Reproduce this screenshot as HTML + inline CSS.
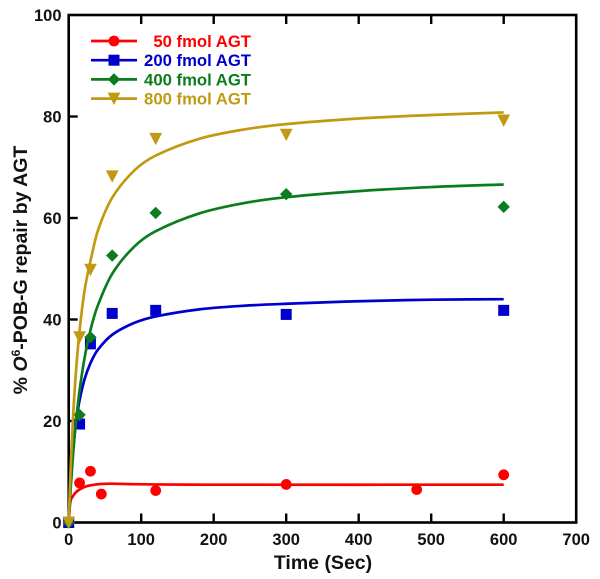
<!DOCTYPE html>
<html lang="en">
<head>
<meta charset="utf-8">
<title>O6-POB-G repair by AGT</title>
<style>
html,body{margin:0;padding:0;background:#fff;width:600px;height:579px;overflow:hidden}
svg{display:block;font-family:"Liberation Sans",Arial,sans-serif;font-weight:bold;filter:blur(0.35px)}
</style>
</head>
<body>
<svg id="chart" xmlns="http://www.w3.org/2000/svg" width="600" height="579" viewBox="0 0 600 579">
  <rect width="600" height="579" fill="#fff"/>
  <g id="axes"></g>
  <g id="curves"></g>
  <g id="legend"></g>
  <text x="323" y="569" font-size="19.5" text-anchor="middle" fill="#111">Time (Sec)</text>
  <text transform="translate(27 270) rotate(-90)" font-size="19.5" text-anchor="middle" fill="#111">% <tspan font-style="italic">O</tspan><tspan font-size="12" dy="-7">6</tspan><tspan dy="7">-POB-G repair by AGT</tspan></text>
</svg>
<script>
// Axis tick labels
const xTicks = [0, 100, 200, 300, 400, 500, 600, 700];
const yTicks = [0, 20, 40, 60, 80, 100];

// Series names and colours
const seriesNames = ['50 fmol AGT', '200 fmol AGT', '400 fmol AGT', '800 fmol AGT'];
const seriesColors = ['#ff0000', '#0000cd', '#0b7d1e', '#c19a13'];
const seriesShapes = ['circle', 'square', 'diamond', 'triangle'];

// Measured points (time, % repair)
const times50 = [0, 15, 30, 45, 120, 300, 480, 600];
const values50 = [0, 7.8, 10.1, 5.6, 6.3, 7.5, 6.5, 9.4];
const times200 = [0, 15, 30, 60, 120, 300, 600];
const values200 = [0, 19.4, 35.2, 41.2, 41.8, 41, 41.8];
const times400 = [0, 15, 30, 60, 120, 300, 600];
const values400 = [0, 21.2, 36.5, 52.6, 61, 64.7, 62.2];
const times800 = [0, 15, 30, 60, 120, 300, 600];
const values800 = [0, 36.5, 49.8, 68.2, 75.6, 76.4, 79.2];

// Fitted curves
const fitTimes50 = [0, 2, 5, 11, 20, 29, 45, 60, 90, 120, 200, 600];
const fitValues50 = [0, 3.8, 5, 6.1, 6.9, 7.3, 7.6, 7.65, 7.55, 7.5, 7.45, 7.45];
const fitTimes = [0, 3, 6, 10, 15, 22, 30, 40, 60, 90, 120, 180, 240, 300, 400, 500, 600];
const fitValues200 = [0, 8.4, 14.2, 19.6, 24.1, 28.3, 31.4, 34, 37, 39.3, 40.6, 42, 42.7, 43.1, 43.6, 43.9, 44];
const fitValues400 = [0, 7.4, 13.4, 19.8, 26, 32.5, 37.9, 42.7, 49, 54.3, 57.4, 60.9, 62.9, 64.1, 65.3, 66.1, 66.6];
const fitValues800 = [0, 11.9, 20.8, 29.7, 37.8, 45.8, 51.5, 57.4, 64, 69.3, 72.3, 75.6, 77.4, 78.5, 79.6, 80.3, 80.8];

const NS = 'http://www.w3.org/2000/svg';
const plotLeft = 68.7, plotRight = 576.2, plotTop = 15, plotBottom = 522.5;
const xMax = 700, yMax = 100;
function xScale(v) { return plotLeft + (v / xMax) * (plotRight - plotLeft); }
function yScale(v) { return plotBottom - (v / yMax) * (plotBottom - plotTop); }
function make(tag, attrs) {
  const el = document.createElementNS(NS, tag);
  for (const k in attrs) el.setAttribute(k, attrs[k]);
  return el;
}
function smoothPath(xs, ys) {
  const p = xs.map((t, i) => [xScale(t), yScale(ys[i])]);
  const n = p.length;
  const slope = p.map((q, i) => {
    const a = p[Math.max(i - 1, 0)], b = p[Math.min(i + 1, n - 1)];
    return (b[1] - a[1]) / (b[0] - a[0]);
  });
  let d = 'M' + p[0][0].toFixed(2) + ' ' + p[0][1].toFixed(2);
  for (let i = 0; i < n - 1; i++) {
    const dx = (p[i + 1][0] - p[i][0]) / 3;
    d += 'C' + (p[i][0] + dx).toFixed(2) + ' ' + (p[i][1] + slope[i] * dx).toFixed(2) + ' ' +
      (p[i + 1][0] - dx).toFixed(2) + ' ' + (p[i + 1][1] - slope[i + 1] * dx).toFixed(2) + ' ' +
      p[i + 1][0].toFixed(2) + ' ' + p[i + 1][1].toFixed(2);
  }
  return d;
}
function marker(shape, cx, cy, color) {
  if (shape === 'circle') return make('circle', { cx: cx, cy: cy, r: 5.4, fill: color });
  if (shape === 'square') return make('rect', { x: cx - 5.5, y: cy - 5.5, width: 11, height: 11, fill: color });
  if (shape === 'diamond') return make('polygon', { points: [cx, cy - 6.2, cx + 6.2, cy, cx, cy + 6.2, cx - 6.2, cy].join(' '), fill: color });
  return make('polygon', { points: [cx - 6.4, cy - 6, cx + 6.4, cy - 6, cx, cy + 6.4].join(' '), fill: color });
}

const fitT = [fitTimes50, fitTimes, fitTimes, fitTimes];
const fitV = [fitValues50, fitValues200, fitValues400, fitValues800];
const ptT = [times50, times200, times400, times800];
const ptV = [values50, values200, values400, values800];
const curvesG = document.getElementById('curves');
const axesG = document.getElementById('axes');
const legendG = document.getElementById('legend');

seriesNames.forEach((name, s) => {
  const color = seriesColors[s];
  const curve = make('path', { d: smoothPath(fitT[s], fitV[s]), fill: 'none', stroke: color, 'stroke-width': 2.7 });
  
  
  curvesG.appendChild(curve);
  ptT[s].forEach((t, i) => {
    const m = marker(seriesShapes[s], xScale(t), yScale(ptV[s][i]), color);
    
    
    curvesG.appendChild(m);
  });
  const ly = 41 + s * 19.2;
  const line = make('line', { x1: 91, x2: 137, y1: ly, y2: ly, stroke: color, 'stroke-width': 2.7 });
  
  
  legendG.appendChild(line);
  const lm = marker(seriesShapes[s], 114, ly, color);
  
  
  legendG.appendChild(lm);
  const lt = make('text', { x: 251, y: ly + 6, 'font-size': 16.7, 'text-anchor': 'end', fill: color });
  
  
  lt.textContent = name;
  legendG.appendChild(lt);
});

const frame = make('rect', { x: plotLeft, y: plotTop, width: plotRight - plotLeft, height: plotBottom - plotTop, fill: 'none', stroke: '#000', 'stroke-width': 2.6 });


axesG.appendChild(frame);

xTicks.forEach(v => {
  const x = xScale(v);
  if (v > 0 && v < xMax) {
    const tb = make('line', { x1: x, x2: x, y1: plotBottom, y2: plotBottom - 9, stroke: '#000', 'stroke-width': 2.4 });
    
    
    axesG.appendChild(tb);
    const tt = make('line', { x1: x, x2: x, y1: plotTop, y2: plotTop + 9, stroke: '#000', 'stroke-width': 2.4 });
    
    
    axesG.appendChild(tt);
  }
  const label = make('text', { x: x, y: 545, 'font-size': 16.5, 'text-anchor': 'middle', fill: '#111' });
  
  
  label.textContent = v;
  axesG.appendChild(label);
});
yTicks.forEach(v => {
  const y = yScale(v);
  if (v > 0 && v < yMax) {
    const tk = make('line', { x1: plotLeft, x2: plotLeft + 9, y1: y, y2: y, stroke: '#000', 'stroke-width': 2.4 });
    
    
    axesG.appendChild(tk);
  }
  const label = make('text', { x: 61.5, y: y + 6, 'font-size': 16.5, 'text-anchor': 'end', fill: '#111' });
  
  
  label.textContent = v;
  axesG.appendChild(label);
});
</script>
</body>
</html>
